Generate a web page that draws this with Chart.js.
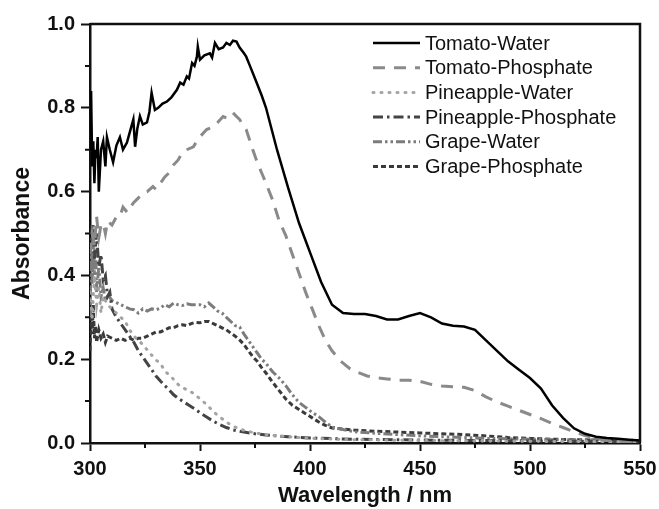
<!DOCTYPE html>
<html>
<head>
<meta charset="utf-8">
<script src="https://cdn.jsdelivr.net/npm/chart.js@4.4.1/dist/chart.umd.min.js"></script>
<style>
  body { margin: 0; background: #fff; }
</style>
</head>
<body>
<canvas id="grafica" width="659" height="509"></canvas>
<script>
// wavelengths (nm) and absorbance for each series
var tomatoWaterX = [300,300.5,301,301.5,302,302.5,303,303.5,304,305,306,307,307.7,309,310.5,312,313.6,315,316.8,318,319.7,320.5,321.5,322.7,324,325.9,327,328,329.5,331,333,335,337,339.5,341,342.5,344,345,346.4,347.5,348.6,349,350,352,354.5,355.5,356.8,358.5,360.5,362,363.6,365,366.6,368,370,371,372.7,375,378,380,385,390,395,400,405,410,415,420,425,430,435,440,445,450,455,460,465,470,475,480,485,490,495,500,505,510,515,520,525,530,535,540,545,550];
var tomatoWaterY = [0.70,0.84,0.66,0.72,0.62,0.70,0.68,0.73,0.60,0.70,0.72,0.66,0.73,0.70,0.67,0.71,0.73,0.70,0.717,0.74,0.772,0.707,0.75,0.78,0.76,0.765,0.79,0.836,0.795,0.80,0.81,0.815,0.825,0.843,0.86,0.855,0.875,0.87,0.907,0.90,0.922,0.946,0.915,0.925,0.93,0.92,0.955,0.94,0.944,0.955,0.95,0.96,0.958,0.944,0.93,0.922,0.90,0.87,0.83,0.80,0.70,0.61,0.525,0.455,0.385,0.33,0.31,0.308,0.308,0.303,0.295,0.295,0.303,0.31,0.30,0.285,0.28,0.278,0.27,0.245,0.22,0.195,0.175,0.155,0.13,0.09,0.06,0.035,0.022,0.015,0.012,0.01,0.008,0.006];

var tomatoPhosX = [300,301,302,303,304,305,306,307,308,310,312,313.6,315,317,319.7,322,324,326,328.6,330,332,334,336,338,340,342,344,347,348.5,350,353,356,358,360.5,362.5,365,366.5,368,371,374,376,378,380,383,386,389,392,395,398,401,404,407,410,414,418,422,426,430,435,440,445,450,455,460,465,470,475,480,485,490,495,500,505,510,515,520,525,530,535,540,545,550];
var tomatoPhosY = [0.45,0.50,0.47,0.54,0.49,0.52,0.525,0.50,0.53,0.52,0.54,0.54,0.563,0.55,0.573,0.585,0.597,0.60,0.612,0.605,0.62,0.635,0.645,0.664,0.675,0.693,0.70,0.707,0.72,0.731,0.748,0.755,0.765,0.779,0.775,0.788,0.78,0.772,0.748,0.70,0.67,0.645,0.62,0.58,0.53,0.495,0.45,0.405,0.36,0.32,0.28,0.245,0.22,0.195,0.178,0.168,0.16,0.156,0.153,0.15,0.15,0.147,0.14,0.136,0.134,0.133,0.125,0.11,0.098,0.088,0.078,0.068,0.058,0.047,0.037,0.027,0.018,0.011,0.006,0.004,0.003,0.002];

var pineWaterX = [300,301,302,303,304,305,306,308,310,312,314,316,318,320,322,324,326,328,330,332,334,336,338,340,342,345,348,350,353,356,359,362,365,370,375,380,390,400,420,450,500,550];
var pineWaterY = [0.36,0.30,0.40,0.33,0.37,0.31,0.35,0.33,0.32,0.31,0.30,0.29,0.27,0.255,0.245,0.235,0.222,0.21,0.198,0.19,0.172,0.162,0.152,0.14,0.132,0.125,0.115,0.105,0.092,0.075,0.062,0.05,0.04,0.03,0.024,0.02,0.015,0.011,0.008,0.006,0.004,0.003];

var pinePhosX = [300,301,302,303,304,305,306,307,308,309,310,312,314,316,318,320,322,324,326,328,330,332,334,336,338,340,342,345,348,350,353,356,359,362,365,370,375,380,390,400,420,450,500,550];
var pinePhosY = [0.45,0.52,0.44,0.50,0.42,0.45,0.39,0.40,0.35,0.36,0.32,0.30,0.285,0.27,0.255,0.24,0.22,0.205,0.19,0.175,0.16,0.148,0.137,0.127,0.115,0.107,0.10,0.09,0.08,0.072,0.062,0.052,0.044,0.037,0.031,0.026,0.022,0.019,0.015,0.012,0.009,0.007,0.005,0.003];

var grapeWaterX = [300,300.5,301,301.5,302,302.5,303,304,305,306,307,308,310,312,314,316,318,320,322,324,326,328,330,332,334,336,338,340,342,344,346,348,350,352,354,356,358,360,362,364,366,368,370,372,374,376,378,380,383,386,389,392,395,398,401,404,407,410,415,420,430,440,450,460,470,480,490,500,510,520,530,540,550];
var grapeWaterY = [0.30,0.45,0.38,0.52,0.40,0.48,0.36,0.42,0.35,0.37,0.34,0.355,0.34,0.335,0.33,0.325,0.32,0.318,0.31,0.32,0.315,0.32,0.318,0.322,0.33,0.325,0.334,0.33,0.328,0.332,0.33,0.33,0.33,0.325,0.334,0.325,0.315,0.31,0.30,0.29,0.28,0.277,0.26,0.245,0.23,0.215,0.20,0.19,0.17,0.155,0.137,0.115,0.097,0.085,0.073,0.063,0.05,0.038,0.032,0.027,0.023,0.02,0.017,0.015,0.013,0.011,0.01,0.009,0.008,0.008,0.008,0.007,0.006];

var grapePhosX = [300,300.5,301,301.5,302,302.5,303,304,305,306,307,308,310,312,314,316,318,320,322,324,326,328,330,332,334,336,338,340,342,344,346,348,350,352,354,356,358,360,362,364,366,368,370,372,374,376,378,380,383,386,389,392,395,398,401,404,407,410,420,430,440,450,460,470,480,490,500,510,520,530,540,550];
var grapePhosY = [0.22,0.30,0.26,0.33,0.25,0.28,0.24,0.27,0.25,0.26,0.24,0.255,0.25,0.245,0.25,0.245,0.25,0.245,0.25,0.25,0.255,0.26,0.265,0.265,0.27,0.275,0.275,0.28,0.282,0.28,0.285,0.288,0.287,0.29,0.29,0.285,0.28,0.275,0.27,0.262,0.255,0.246,0.235,0.22,0.206,0.195,0.18,0.167,0.145,0.125,0.105,0.09,0.08,0.07,0.06,0.05,0.042,0.036,0.031,0.028,0.026,0.024,0.022,0.02,0.017,0.013,0.011,0.009,0.008,0.007,0.006,0.005];

var xTicks = [300, 350, 400, 450, 500, 550];
var xMinor = [325, 375, 425, 475, 525];
var yTicks = [0.0, 0.2, 0.4, 0.6, 0.8, 1.0];
var yMinor = [0.1, 0.3, 0.5, 0.7, 0.9];

function puntos(xs, ys) {
    var out = [];
    for (var i = 0; i < xs.length; i++) out.push({x: xs[i], y: ys[i]});
    return out;
}

// frame on top and right, plus the small minor ticks
const marco = {
    id: 'marco',
    afterDraw: function(chart) {
        var ctx = chart.ctx;
        var a = chart.chartArea;
        var sx = chart.scales.x, sy = chart.scales.y;
        ctx.save();
        ctx.strokeStyle = '#111';
        ctx.lineWidth = 2.5;
        ctx.beginPath();
        ctx.moveTo(a.left, a.top);
        ctx.lineTo(a.right, a.top);
        ctx.lineTo(a.right, a.bottom);
        ctx.stroke();
        ctx.lineWidth = 2;
        ctx.beginPath();
        xMinor.forEach(function(v) {
            var px = sx.getPixelForValue(v);
            ctx.moveTo(px, a.bottom);
            ctx.lineTo(px, a.bottom + 5);
        });
        yMinor.forEach(function(v) {
            var py = sy.getPixelForValue(v);
            ctx.moveTo(a.left, py);
            ctx.lineTo(a.left - 5, py);
        });
        ctx.stroke();
        ctx.restore();
    }
};

// legend inside the plot, top right
const leyenda = {
    id: 'leyenda',
    afterDraw: function(chart) {
        var ctx = chart.ctx;
        ctx.save();
        ctx.font = '20px "Liberation Sans", Arial, sans-serif';
        ctx.textBaseline = 'middle';
        ctx.fillStyle = '#111';
        chart.data.datasets.forEach(function(ds, i) {
            var y = 43 + i * 24.7;
            ctx.strokeStyle = ds.borderColor;
            ctx.lineWidth = ds.borderWidth;
            ctx.lineCap = ds.borderCapStyle || 'butt';
            ctx.setLineDash(ds.borderDash || []);
            ctx.beginPath();
            ctx.moveTo(373, y);
            ctx.lineTo(420, y);
            ctx.stroke();
            ctx.setLineDash([]);
            ctx.fillText(ds.label, 425, y + 1);
        });
        ctx.restore();
    }
};

function drawChart() {
    var ctx = document.getElementById('grafica').getContext('2d');
    new Chart(ctx, {
        type: 'line',
        data: {
            datasets: [
                { label: 'Tomato-Water', data: puntos(tomatoWaterX, tomatoWaterY), borderColor: '#000', borderWidth: 2.5, borderDash: [] },
                { label: 'Tomato-Phosphate', data: puntos(tomatoPhosX, tomatoPhosY), borderColor: '#8a8a8a', borderWidth: 3, borderDash: [12, 9] },
                { label: 'Pineapple-Water', data: puntos(pineWaterX, pineWaterY), borderColor: '#a3a3a3', borderWidth: 3, borderDash: [1, 7], borderCapStyle: 'round' },
                { label: 'Pineapple-Phosphate', data: puntos(pinePhosX, pinePhosY), borderColor: '#444', borderWidth: 3, borderDash: [10, 4, 2.5, 4] },
                { label: 'Grape-Water', data: puntos(grapeWaterX, grapeWaterY), borderColor: '#7c7c7c', borderWidth: 3, borderDash: [9, 3, 2.5, 3, 2.5, 3] },
                { label: 'Grape-Phosphate', data: puntos(grapePhosX, grapePhosY), borderColor: '#3a3a3a', borderWidth: 3, borderDash: [5, 3] }
            ]
        },
        options: {
            animation: false,
            responsive: false,
            maintainAspectRatio: false,
            layout: { padding: { top: 24, right: 19, left: 0, bottom: 0 } },
            elements: { point: { radius: 0 }, line: { tension: 0, fill: false } },
            plugins: { legend: { display: false }, tooltip: { enabled: false } },
            scales: {
                x: {
                    type: 'linear',
                    min: 300,
                    max: 550,
                    afterFit: function(s) { s.height = 66; s.paddingLeft = 0; s.paddingRight = 0; },
                    afterBuildTicks: function(s) { s.ticks = xTicks.map(function(v) { return {value: v}; }); },
                    border: { display: true, color: '#111', width: 2.5 },
                    grid: { drawOnChartArea: false, color: '#111', tickLength: 8, tickWidth: 2 },
                    ticks: { color: '#111', padding: 6, maxRotation: 0, font: { family: '"Liberation Sans", Arial, sans-serif', size: 20, weight: 'bold' } },
                    title: { display: true, text: 'Wavelength / nm', color: '#111', padding: { bottom: 0, top: 0 }, font: { family: '"Liberation Sans", Arial, sans-serif', size: 22, weight: 'bold', lineHeight: 1.2 } }
                },
                y: {
                    type: 'linear',
                    min: 0,
                    max: 1,
                    afterFit: function(s) { s.width = 90; s.paddingTop = 0; s.paddingBottom = 0; },
                    afterBuildTicks: function(s) { s.ticks = yTicks.map(function(v) { return {value: v}; }); },
                    border: { display: true, color: '#111', width: 2.5 },
                    grid: { drawOnChartArea: false, color: '#111', tickLength: 9, tickWidth: 2 },
                    ticks: {
                        color: '#111', padding: 6,
                        font: { family: '"Liberation Sans", Arial, sans-serif', size: 20, weight: 'bold' },
                        callback: function(v) { return v.toFixed(1); }
                    },
                    title: { display: true, text: 'Absorbance', color: '#111', padding: { top: 9, bottom: 0 }, font: { family: '"Liberation Sans", Arial, sans-serif', size: 23, weight: 'bold', lineHeight: 1.2 } }
                }
            }
        },
        plugins: [marco, leyenda]
    });
}

document.addEventListener("DOMContentLoaded", function() {
    drawChart();
});
</script>
</body>
</html>
